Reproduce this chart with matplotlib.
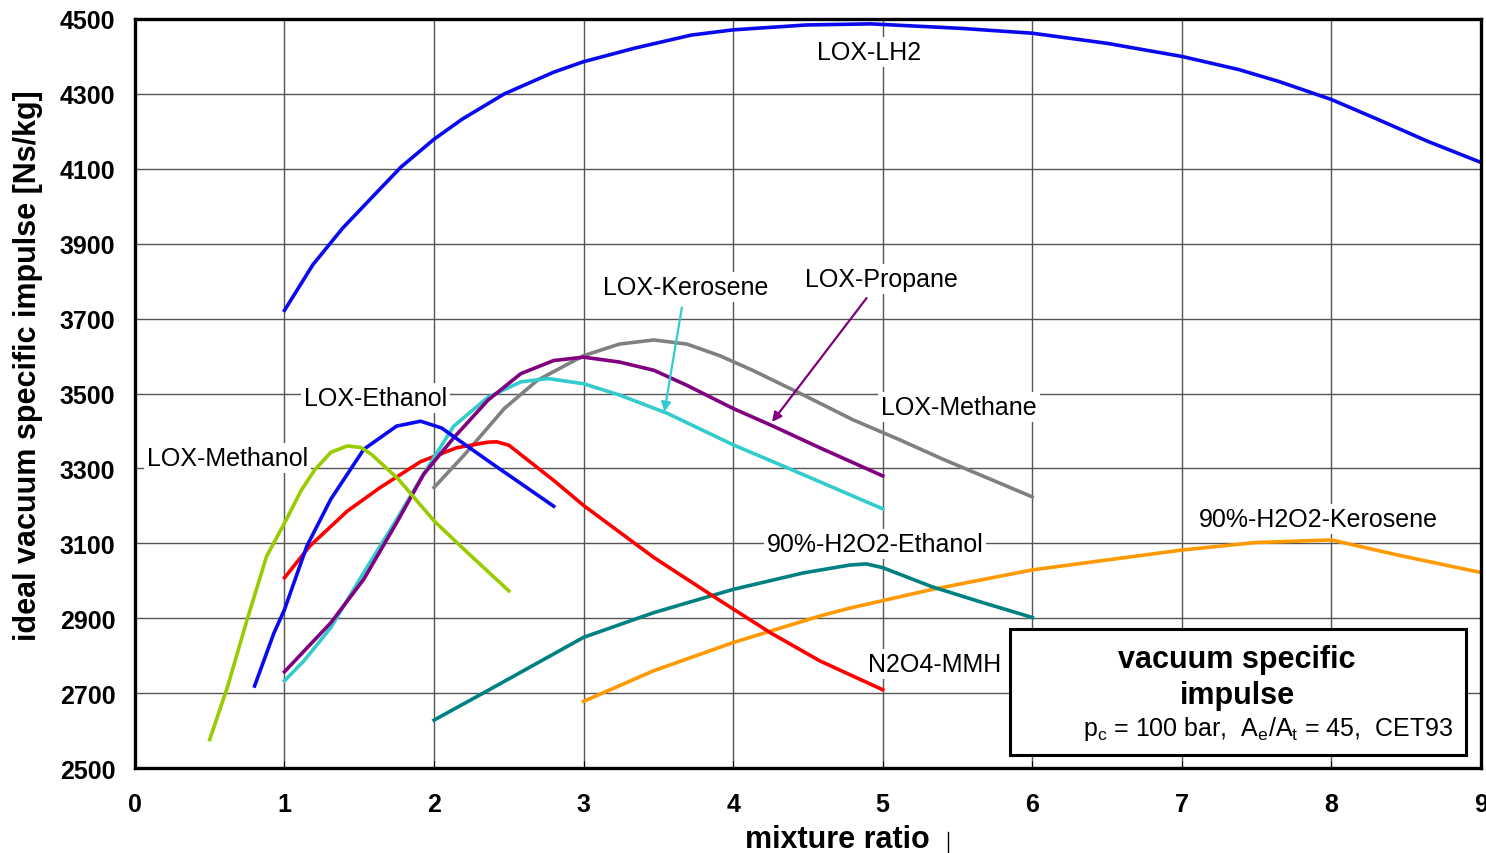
import matplotlib.pyplot as plt
from matplotlib.patches import Rectangle
from matplotlib.lines import Line2D

plt.rcParams['font.family'] = ['Liberation Sans', 'DejaVu Sans']
plt.rcParams['mathtext.fontset'] = 'custom'
plt.rcParams['mathtext.rm'] = 'Liberation Sans'

# Data: mixture ratio vs ideal vacuum Isp [Ns/kg]
lh2_x = [1.0, 1.19, 1.39, 1.6, 1.78, 2.0, 2.19, 2.47, 2.8, 3.0, 3.34, 3.72, 4.0, 4.49, 4.92,
         5.52, 6.0, 6.5, 7.0, 7.38, 7.65, 8.0, 8.31, 8.64, 9.0]
lh2_y = [3722, 3844, 3942, 4030, 4105, 4179, 4233, 4300, 4358, 4386, 4422, 4457, 4471, 4484, 4487,
         4475, 4462, 4435, 4400, 4365, 4333, 4285, 4232, 4174, 4117]

methanol_x = [0.5, 0.62, 0.75, 0.88, 1.0, 1.11, 1.2, 1.31, 1.42, 1.51, 1.58, 1.76, 2.0, 2.2, 2.5]
methanol_y = [2576, 2718, 2896, 3065, 3154, 3240, 3295, 3343, 3360, 3356, 3338, 3272, 3160, 3084, 2973]

ethanol_x = [0.8, 0.93, 1.0, 1.15, 1.31, 1.53, 1.75, 1.91, 2.05, 2.38, 2.8]
ethanol_y = [2719, 2861, 2923, 3093, 3218, 3351, 3413, 3426, 3408, 3315, 3199]

mmh_x = [1.0, 1.17, 1.42, 1.64, 1.91, 2.15, 2.36, 2.42, 2.5, 2.65, 2.8, 3.0, 3.47, 3.85, 4.25, 4.58, 5.0]
mmh_y = [3008, 3093, 3186, 3249, 3318, 3355, 3370, 3371, 3362, 3315, 3268, 3201, 3062, 2963, 2861, 2786, 2709]

kero_x = [1.0, 1.13, 1.31, 1.53, 1.75, 1.93, 2.13, 2.36, 2.58, 2.76, 3.0, 3.24, 3.56, 4.0, 4.36, 5.0]
kero_y = [2733, 2786, 2875, 3022, 3164, 3285, 3412, 3490, 3531, 3540, 3526, 3496, 3447, 3363, 3302, 3192]

propane_x = [1.0, 1.31, 1.53, 1.75, 1.93, 2.13, 2.36, 2.58, 2.8, 3.0, 3.24, 3.47, 3.69, 4.0, 4.25, 4.58, 5.0]
propane_y = [2757, 2888, 3004, 3155, 3284, 3381, 3482, 3553, 3588, 3597, 3584, 3562, 3522, 3460, 3416, 3355, 3280]

methane_x = [2.0, 2.2, 2.47, 2.69, 3.0, 3.24, 3.47, 3.69, 3.91, 4.13, 4.47, 4.8, 5.11, 5.4, 6.0]
methane_y = [3249, 3335, 3460, 3535, 3601, 3632, 3643, 3632, 3601, 3562, 3496, 3430, 3377, 3325, 3224]

h2o2_eth_x = [2.0, 2.36, 3.0, 3.47, 4.0, 4.47, 4.78, 4.89, 5.0, 5.33, 5.65, 6.0]
h2o2_eth_y = [2628, 2707, 2849, 2915, 2977, 3021, 3042, 3045, 3035, 2984, 2944, 2902]

h2o2_kero_x = [3.0, 3.47, 4.0, 4.58, 4.78, 5.32, 6.0, 7.0, 7.49, 8.0, 8.44, 9.0]
h2o2_kero_y = [2678, 2760, 2835, 2906, 2927, 2976, 3029, 3082, 3102, 3109, 3069, 3022]

fig = plt.figure(figsize=(14.86, 8.54), dpi=100)
ax = fig.add_axes([0.0908, 0.0995, 0.9058, 0.8771])

lw = 2.6
ax.plot(lh2_x, lh2_y, color='#0A0AF0', lw=lw)
ax.plot(h2o2_kero_x, h2o2_kero_y, color='#FF9900', lw=lw)
ax.plot(h2o2_eth_x, h2o2_eth_y, color='#008080', lw=lw)
ax.plot(methane_x, methane_y, color='#808080', lw=lw)
ax.plot(mmh_x, mmh_y, color='#FF0000', lw=lw)
ax.plot(kero_x, kero_y, color='#33CCCC', lw=lw)
ax.plot(propane_x, propane_y, color='#800080', lw=lw)
ax.plot(ethanol_x, ethanol_y, color='#0A0AF0', lw=lw)
ax.plot(methanol_x, methanol_y, color='#99CC00', lw=lw)

ax.set_xlim(0, 9)
ax.set_ylim(2500, 4500)
ax.set_xticks(range(0, 10))
ax.set_yticks(range(2500, 4501, 200))
ax.grid(True, color='#555555', lw=1)
ax.set_axisbelow(True)
for s in ax.spines.values():
    s.set_linewidth(2.4)
ax.tick_params(axis='x', direction='in', length=5, pad=17, labelsize=18)
ax.tick_params(axis='y', direction='in', length=0, pad=14, labelsize=18)
for t in ax.get_xticklabels() + ax.get_yticklabels():
    t.set_fontweight('bold')

ax.set_xlabel('mixture ratio', fontsize=22, fontweight='bold')
ax.xaxis.label.set_va('center')
ax.xaxis.set_label_coords(0.522, -0.095)
ax.set_ylabel('ideal vacuum specific impulse [Ns/kg]', fontsize=22, fontweight='bold')
ax.yaxis.label.set_va('center')
ax.yaxis.set_label_coords(-0.0795, 0.539)

# small stray tick next to the x label
fig.add_artist(Line2D([948 / 1486, 948 / 1486], [0.0, 21 / 854], color='black', lw=1))

box = dict(facecolor='white', edgecolor='none', pad=2)
labels = [
    ('LOX-LH2', 4.91, 4412),
    ('LOX-Methane', 5.51, 3464),
    ('LOX-Ethanol', 1.61, 3488),
    ('LOX-Methanol', 0.62, 3328),
    ('90%-H2O2-Ethanol', 4.95, 3098),
    ('90%-H2O2-Kerosene', 7.91, 3165),
    ('N2O4-MMH', 5.35, 2778),
]
for txt, x, y in labels:
    ax.text(x, y, txt, fontsize=18, ha='center', va='center', bbox=box, zorder=5)

ax.annotate('LOX-Kerosene', xy=(3.54, 3451), xytext=(3.68, 3784), fontsize=18,
            ha='center', va='center', bbox=box, zorder=6,
            arrowprops=dict(arrowstyle='-|>', color='#33CCCC', lw=1.6,
                            mutation_scale=14, shrinkA=4, shrinkB=0))
ax.annotate('LOX-Propane', xy=(4.26, 3424), xytext=(4.99, 3806), fontsize=18,
            ha='center', va='center', bbox=box, zorder=6,
            arrowprops=dict(arrowstyle='-|>', color='#800080', lw=1.6,
                            mutation_scale=14, shrinkA=4, shrinkB=0))

ax.add_patch(Rectangle((5.85, 2535), 3.05, 336, facecolor='white', edgecolor='black',
                       lw=2.2, zorder=7))
ax.text(7.37, 2792, 'vacuum specific', fontsize=22, fontweight='bold', ha='center',
        va='center', zorder=8)
ax.text(7.37, 2696, 'impulse', fontsize=22, fontweight='bold', ha='center',
        va='center', zorder=8)
ax.text(7.58, 2606, r'p$_\mathrm{c}$ = 100 bar,  A$_\mathrm{e}$/A$_\mathrm{t}$ = 45,  CET93',
        fontsize=18, ha='center', va='center', zorder=8)

fig.savefig('out.png', dpi=100)
